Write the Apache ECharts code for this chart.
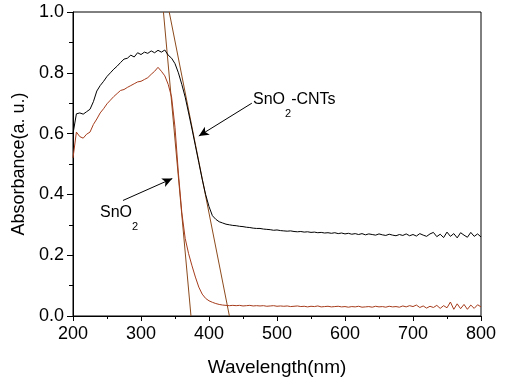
<!DOCTYPE html>
<html>
<head>
<meta charset="utf-8">
<script src="https://cdn.jsdelivr.net/npm/echarts@6/dist/echarts.min.js"></script>
<style>
html,body{margin:0;padding:0;background:#fff;}
#chart{width:507px;height:388px;}
</style>
</head>
<body>
<div id="chart"></div>
<script>
// Wavelength (nm)
const wavelength = [
  200,205,210,215,220,225,230,235,240,245,
  250,255,260,265,270,275,280,285,290,295,
  300,305,310,315,320,325,330,335,340,345,
  350,355,360,365,370,375,380,385,390,395,
  400,405,410,415,420,425,430,435,440,445,
  450,455,460,465,470,475,480,485,490,495,
  500,505,510,515,520,525,530,535,540,545,
  550,555,560,565,570,575,580,585,590,595,
  600,605,610,615,620,625,630,635,640,645,
  650,655,660,665,670,675,680,685,690,695,
  700,705,710,715,720,725,730,735,740,745,
  750,755,760,765,770,775,780,785,790,795,
  800
];
// SnO2-CNTs absorbance
const absCNTs = [
  0.600,0.665,0.668,0.664,0.672,0.680,0.705,0.740,0.758,0.772,
  0.788,0.800,0.812,0.822,0.834,0.845,0.848,0.858,0.852,0.866,
  0.860,0.868,0.864,0.872,0.866,0.874,0.868,0.875,0.858,0.848,
  0.830,0.800,0.762,0.720,0.668,0.615,0.560,0.505,0.450,0.400,
  0.360,0.330,0.318,0.310,0.306,0.302,0.300,0.298,0.297,0.295,
  0.294,0.292,0.291,0.289,0.288,0.288,0.286,0.285,0.284,0.282,
  0.283,0.281,0.280,0.279,0.280,0.278,0.277,0.278,0.276,0.277,
  0.275,0.276,0.274,0.275,0.273,0.274,0.272,0.274,0.271,0.273,
  0.270,0.272,0.269,0.271,0.268,0.271,0.267,0.270,0.268,0.266,
  0.270,0.267,0.265,0.269,0.266,0.264,0.268,0.265,0.270,0.264,
  0.268,0.263,0.271,0.266,0.262,0.270,0.275,0.261,0.269,0.258,
  0.276,0.262,0.271,0.257,0.274,0.266,0.259,0.275,0.262,0.270,
  0.260
];
// SnO2 absorbance
const absSnO2 = [
  0.520,0.605,0.590,0.585,0.598,0.605,0.630,0.648,0.668,0.682,
  0.698,0.710,0.722,0.732,0.742,0.745,0.752,0.758,0.764,0.770,
  0.772,0.778,0.784,0.795,0.805,0.818,0.805,0.790,0.762,0.720,
  0.620,0.470,0.340,0.255,0.205,0.165,0.128,0.095,0.072,0.058,
  0.050,0.045,0.041,0.038,0.036,0.035,0.034,0.035,0.034,0.035,
  0.033,0.034,0.035,0.033,0.034,0.033,0.034,0.032,0.033,0.034,
  0.032,0.033,0.032,0.033,0.031,0.032,0.033,0.031,0.032,0.030,
  0.032,0.031,0.033,0.030,0.031,0.032,0.030,0.031,0.032,0.030,
  0.031,0.029,0.031,0.030,0.032,0.029,0.030,0.031,0.029,0.032,
  0.030,0.031,0.029,0.032,0.030,0.031,0.029,0.033,0.030,0.034,
  0.031,0.036,0.028,0.033,0.026,0.032,0.028,0.035,0.025,0.034,
  0.027,0.046,0.022,0.040,0.024,0.038,0.022,0.036,0.025,0.037,
  0.030
];
// Tangent lines (band-edge extrapolation)
const tangentCNTs = [[341.5, 1.0], [430, 0.0]];
const tangentSnO2 = [[333, 1.0], [373.5, 0.0]];
// Annotations: label anchor (top-left) and arrow from/to
const labelCNTsAt = [464.7, 0.737];
const labelSnO2At = [239.7, 0.368];
const arrowCNTs = [[463, 0.70], [385, 0.592]];
const arrowSnO2 = [[273.5, 0.38], [346, 0.452]];
const xTicks = [200, 800, 100];
const yTicks = [0, 1.0, 0.2];

const FONT = "Liberation Sans";
const pair = (xs, ys) => xs.map((x, i) => [x, ys[i]]);
const richStyle = {
  m: {fontSize: 16, lineHeight: 18, verticalAlign: 'top', color: '#000', fontFamily: FONT},
  s: {fontSize: 11, lineHeight: 12, padding: [17, 0, 0, 0], verticalAlign: 'top', color: '#000', fontFamily: FONT}
};
function labelPoint(coord, text) {
  return {
    coord: coord, symbol: 'circle', symbolSize: 0,
    label: {show: true, position: [0, 0], align: 'left', verticalAlign: 'top',
      fontSize: 16, fontFamily: FONT, color: '#000',
      formatter: text, rich: richStyle}
  };
}

const chart = echarts.init(document.getElementById('chart'), null, {renderer: 'canvas'});
chart.setOption({
  animation: false,
  backgroundColor: '#fff',
  textStyle: {fontFamily: FONT},
  grid: {left: 73, right: 26, top: 12, bottom: 72, show: true, borderColor: '#000', borderWidth: 1, backgroundColor: 'transparent'},
  xAxis: {
    type: 'value', min: xTicks[0], max: xTicks[1], interval: xTicks[2],
    name: 'Wavelength(nm)', nameLocation: 'middle', nameGap: 42,
    nameTextStyle: {fontSize: 19, color: '#000', fontFamily: FONT},
    axisLine: {lineStyle: {color: '#000', width: 1}},
    axisTick: {show: true, inside: false, length: 5, lineStyle: {color: '#000'}},
    minorTick: {show: true, splitNumber: 2, length: 3, lineStyle: {color: '#000'}},
    splitLine: {show: false},
    axisLabel: {fontSize: 18, color: '#000', margin: 9, fontFamily: FONT}
  },
  yAxis: {
    type: 'value', min: yTicks[0], max: yTicks[1], interval: yTicks[2],
    name: 'Absorbance(a. u.)', nameLocation: 'middle', nameGap: 42,
    nameTextStyle: {fontSize: 18, color: '#000', fontFamily: FONT},
    axisLine: {show: true, lineStyle: {color: '#000', width: 1}},
    axisTick: {show: true, inside: false, length: 6, lineStyle: {color: '#000'}},
    minorTick: {show: true, splitNumber: 2, length: 4, lineStyle: {color: '#000'}},
    splitLine: {show: false},
    axisLabel: {fontSize: 18, color: '#000', margin: 9, fontFamily: FONT,
      formatter: v => v.toFixed(1)}
  },
  series: [
    {
      name: 'SnO2-CNTs', type: 'line', data: pair(wavelength, absCNTs),
      showSymbol: false, lineStyle: {color: '#000', width: 1}, z: 3,
      markLine: {
        silent: true, symbol: ['none', 'arrow'], symbolSize: [7, 10],
        label: {show: false},
        lineStyle: {color: '#000', width: 1, type: 'solid'},
        data: [
          [{coord: arrowCNTs[0]}, {coord: arrowCNTs[1]}],
          [{coord: arrowSnO2[0]}, {coord: arrowSnO2[1]}]
        ]
      },
      markPoint: {
        silent: true,
        data: [
          labelPoint(labelCNTsAt, '{m|SnO}{s|2}{m|-CNTs}'),
          labelPoint(labelSnO2At, '{m|SnO}{s|2}')
        ]
      }
    },
    {
      name: 'SnO2', type: 'line', data: pair(wavelength, absSnO2),
      showSymbol: false, lineStyle: {color: '#a63c1c', width: 1}, z: 3
    },
    {
      name: 'tangentCNTs', type: 'line', data: tangentCNTs,
      showSymbol: false, lineStyle: {color: '#8c4a1c', width: 1}, z: 2
    },
    {
      name: 'tangentSnO2', type: 'line', data: tangentSnO2,
      showSymbol: false, lineStyle: {color: '#8c4a1c', width: 1}, z: 2
    }
  ]
});
</script>
</body>
</html>
